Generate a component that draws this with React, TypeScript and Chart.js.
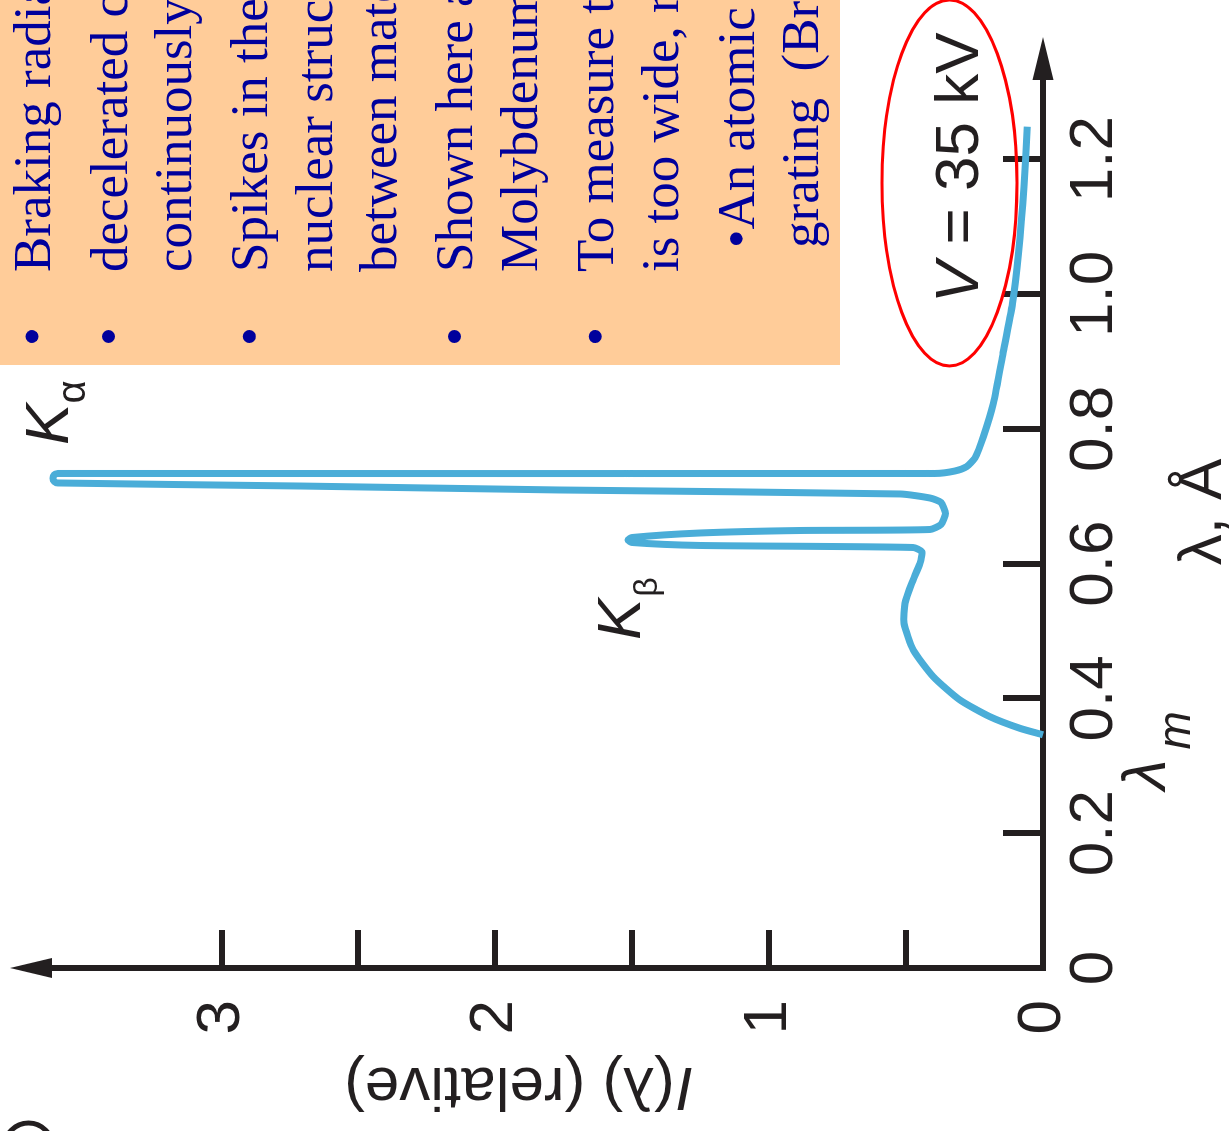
import React, { useEffect, useRef } from 'react';
import { Chart, registerables } from 'chart.js';

Chart.register(...registerables);

// ---------- data: X-ray spectrum of a molybdenum target (λ in Å, relative intensity) ----------
const wavelength = [
  0.346, 0.3556, 0.3728, 0.3976, 0.4322, 0.4718, 0.5114, 0.5411, 0.5708, 0.6004, 0.6177,
  0.6239, 0.6269, 0.6313, 0.635, 0.6387, 0.6454, 0.6491, 0.6506,
  0.658, 0.6743, 0.6907, 0.6973,
  0.7033, 0.7092, 0.7151, 0.7196, 0.7216, 0.7266, 0.7316, 0.7337, 0.7337, 0.7374, 0.7438,
  0.7567, 0.7883, 0.8378, 0.912, 0.9862, 1.0604, 1.1592, 1.2482,
];
const intensity = [
  0.0, 0.084, 0.1936, 0.3031, 0.4006, 0.4737, 0.5077, 0.504, 0.4796, 0.4492, 0.443,
  0.4748, 1.2527, 1.5011, 1.5157, 1.5011, 1.2527, 0.8875, 0.4127,
  0.3725, 0.3561, 0.3725, 0.4127,
  0.522, 1.764, 2.714, 3.598, 3.611, 3.616, 3.611, 3.598, 0.394, 0.321, 0.279,
  0.2484, 0.218, 0.1815, 0.146, 0.1114, 0.0895, 0.0694, 0.0573,
];

const xTickValues = [0, 0.2, 0.4, 0.6, 0.8, 1.0, 1.2];
const xTickLabels = ['0', '0.2', '0.4', '0.6', '0.8', '1.0', '1.2'];
const xTickMarks = [0.2, 0.4, 0.6, 0.8, 1.0, 1.2];
const yTickValues = [0, 1, 2, 3];
const yTickLabels = ['0', '1', '2', '3'];
const yTickMarks = [0.5, 1, 1.5, 2, 2.5, 3];
const X_MIN = 0;
const X_MAX = 1.3234;
const Y_MIN = 0;
const Y_MAX = 3.634;

const xTitle = 'λ, Å';
const yTitleItalic = 'I';
const yTitleRest = '(λ) (relative)';

// slide overlay text (clipped by the picture edge)
const slideLines = [
  { text: 'Braking radiation (Bremsstrahlung)', bullet: true, indent: false },
  { text: 'decelerated charges radiate, giving a', bullet: true, indent: false },
  { text: 'continuously distributed spectrum', bullet: false, indent: false },
  { text: 'Spikes in the spectrum reveal the atomic (not', bullet: true, indent: false },
  { text: 'nuclear structure): transitions of electrons', bullet: false, indent: false },
  { text: 'between material’s inner energy levels', bullet: false, indent: false },
  { text: 'Shown here are the Kα and Kβ lines of', bullet: true, indent: false },
  { text: 'Molybdenum (Mo, Z = 42)', bullet: false, indent: false },
  { text: 'To measure the X-ray wavelength, a ruled grating', bullet: true, indent: false },
  { text: 'is too wide, requires much finer spacing', bullet: false, indent: false },
  { text: '•An atomic crystal acts as a diffraction', bullet: false, indent: true, newPara: true },
  { text: 'grating  (Bragg diffraction)', bullet: false, indent: true },
];

const INK = '#231F20';
const CURVE = '#4AADD8';
const SANS = "'Liberation Sans', Arial, Helvetica, sans-serif";
const SERIF = "'Liberation Serif', 'Times New Roman', serif";

const figurePlugin = {
  id: 'figureExtras',
  beforeDatasetsDraw(chart: any) {
    const { ctx, chartArea: a, scales } = chart;
    const xs = scales.x;
    const ys = scales.y;
    ctx.save();
    ctx.strokeStyle = INK;
    ctx.lineWidth = 6;
    ctx.lineCap = 'butt';
    ctx.beginPath();
    for (const v of xTickMarks) {
      const px = Math.round(xs.getPixelForValue(v));
      ctx.moveTo(px, a.bottom);
      ctx.lineTo(px, a.bottom - 40);
    }
    for (const v of yTickMarks) {
      const py = Math.round(ys.getPixelForValue(v));
      ctx.moveTo(a.left, py);
      ctx.lineTo(a.left + 38, py);
    }
    ctx.stroke();
    // arrowheads
    ctx.fillStyle = INK;
    const ay = ys.getPixelForValue(0);
    const ax = xs.getPixelForValue(0);
    const xtip = a.right + 39;
    ctx.beginPath();
    ctx.moveTo(xtip, ay);
    ctx.lineTo(xtip - 43, ay - 10.5);
    ctx.lineTo(xtip - 43, ay + 10.5);
    ctx.closePath();
    ctx.fill();
    const ytip = a.top - 38;
    ctx.beginPath();
    ctx.moveTo(ax, ytip);
    ctx.lineTo(ax - 10, ytip + 42);
    ctx.lineTo(ax + 10, ytip + 42);
    ctx.closePath();
    ctx.fill();
    ctx.restore();
  },
  afterDraw(chart: any) {
    const { ctx, chartArea: a, scales } = chart;
    const xs = scales.x;
    const ys = scales.y;
    const px = (v: number) => xs.getPixelForValue(v);
    const py = (v: number) => ys.getPixelForValue(v);
    ctx.save();
    ctx.fillStyle = INK;
    ctx.textBaseline = 'alphabetic';
    ctx.textAlign = 'left';

    // axis titles
    ctx.font = `62px ${SANS}`;
    ctx.textAlign = 'center';
    ctx.fillText(xTitle, px(0.6766), a.bottom + 178);

    // y title, rotated
    ctx.save();
    ctx.translate(a.left - 117, py(1.91));
    ctx.rotate(-Math.PI / 2);
    ctx.textBaseline = 'middle';
    ctx.font = `italic 62px ${SANS}`;
    const wI = ctx.measureText(yTitleItalic).width;
    ctx.font = `62px ${SANS}`;
    const wR = ctx.measureText(yTitleRest).width;
    const start = -(wI + wR) / 2;
    ctx.textAlign = 'left';
    ctx.font = `italic 62px ${SANS}`;
    ctx.fillText(yTitleItalic, start, 0);
    ctx.font = `62px ${SANS}`;
    ctx.fillText(yTitleRest, start + wI + 2, 0);
    ctx.restore();

    ctx.textAlign = 'left';
    // V = 35 kV
    {
      const x0 = px(0.9866);
      const y0 = py(0.2374);
      ctx.font = `italic 62px ${SANS}`;
      ctx.fillText('V', x0, y0);
      const w = ctx.measureText('V').width;
      ctx.font = `62px ${SANS}`;
      ctx.fillText(' = 35 kV', x0 + w, y0);
    }
    // K alpha
    {
      const x0 = px(0.776);
      const y0 = py(3.561);
      ctx.font = `italic 62px ${SANS}`;
      ctx.fillText('K', x0, y0);
      const w = ctx.measureText('K').width;
      ctx.font = `40px ${SANS}`;
      ctx.fillText('α', x0 + w, y0 + 17);
    }
    // K beta
    {
      const x0 = px(0.4866);
      const y0 = py(1.472);
      ctx.font = `italic 62px ${SANS}`;
      ctx.fillText('K', x0, y0);
      const w = ctx.measureText('K').width;
      ctx.font = `34px ${SANS}`;
      ctx.fillText('β', x0 + w + 2, y0 + 17);
    }
    // lambda_m
    {
      const x0 = px(0.2641);
      const y0 = py(-0.4456);
      ctx.font = `italic 62px ${SANS}`;
      ctx.fillText('λ', x0, y0);
      const w = ctx.measureText('λ').width;
      ctx.font = `italic 46px ${SANS}`;
      ctx.fillText('m', x0 + w + 10, y0 + 25);
    }

    // red ellipse
    ctx.strokeStyle = '#FF0000';
    ctx.lineWidth = 3;
    ctx.beginPath();
    ctx.ellipse(px(1.1647), py(0.3415), 183, 67.5, 0, 0, Math.PI * 2);
    ctx.stroke();

    // partial circled label in the corner
    ctx.strokeStyle = INK;
    ctx.lineWidth = 5;
    ctx.beginPath();
    ctx.arc(-16, 28.5, 24, 0, Math.PI * 2);
    ctx.stroke();

    // slide overlay box
    ctx.fillStyle = '#FFCC99';
    ctx.fillRect(766, 0, 380, 840);
    ctx.fillStyle = '#00009C';
    ctx.font = `53px ${SERIF}`;
    let base = 50;
    slideLines.forEach((line, i) => {
      if (i > 0) base += line.bullet || (line as any).newPara ? 76.5 : 64.3;
      const tx = line.indent ? 883 : 859;
      ctx.fillText(line.text, tx, base);
      if (line.bullet) {
        ctx.beginPath();
        ctx.arc(794.5, base - 18, 6.5, 0, Math.PI * 2);
        ctx.fill();
      }
    });
    ctx.restore();
  },
};

export default function App() {
  const canvasRef = useRef<HTMLCanvasElement | null>(null);

  useEffect(() => {
    const canvas = canvasRef.current;
    if (!canvas) return;
    const points = wavelength.map((x, i) => ({ x, y: intensity[i] }));
    const chart = new Chart(canvas, {
      type: 'line',
      data: {
        datasets: [
          {
            data: points,
            borderColor: CURVE,
            borderWidth: 7,
            pointRadius: 0,
            tension: 0.2,
            fill: false,
            clip: false,
            borderJoinStyle: 'round',
            borderCapStyle: 'butt',
          } as any,
        ],
      },
      options: {
        responsive: false,
        animation: false,
        devicePixelRatio: 1,
        layout: { padding: { top: 48, right: 76, left: 0, bottom: 0 } },
        plugins: { legend: { display: false }, tooltip: { enabled: false } },
        scales: {
          x: {
            type: 'linear',
            min: X_MIN,
            max: X_MAX,
            afterFit: (scale: any) => {
              scale.height = 188;
            },
            afterBuildTicks: (scale: any) => {
              scale.ticks = xTickValues.map((value) => ({ value }));
            },
            grid: { display: false, drawTicks: false },
            border: { display: true, color: INK, width: 6 },
            ticks: {
              autoSkip: false,
              maxRotation: 0,
              padding: 15,
              color: INK,
              font: { family: SANS, size: 62, lineHeight: 1.2 },
              callback: (value: any) => {
                const i = xTickValues.indexOf(Number(value));
                return i >= 0 ? xTickLabels[i] : '';
              },
            },
            title: { display: false },
          },
          y: {
            type: 'linear',
            min: Y_MIN,
            max: Y_MAX,
            afterFit: (scale: any) => {
              scale.width = 163;
            },
            afterBuildTicks: (scale: any) => {
              scale.ticks = yTickValues.map((value) => ({ value }));
            },
            grid: { display: false, drawTicks: false },
            border: { display: true, color: INK, width: 6 },
            ticks: {
              autoSkip: false,
              padding: 32,
              color: INK,
              font: { family: SANS, size: 62, lineHeight: 0.3 },
              callback: (value: any) => {
                const i = yTickValues.indexOf(Number(value));
                return i >= 0 ? yTickLabels[i] : '';
              },
            },
            title: { display: false },
          },
        },
      },
      plugins: [figurePlugin],
    } as any);
    return () => chart.destroy();
  }, []);

  return (
    <div
      style={{
        position: 'fixed',
        left: 0,
        top: 0,
        width: 1231,
        height: 1131,
        overflow: 'hidden',
        background: '#ffffff',
      }}
    >
      <div
        style={{
          position: 'absolute',
          left: 0,
          top: 0,
          width: 1131,
          height: 1231,
          transformOrigin: '0 0',
          transform: 'translateY(1131px) rotate(-90deg)',
        }}
      >
        <canvas
          ref={canvasRef}
          width={1131}
          height={1231}
          style={{ display: 'block', width: 1131, height: 1231 }}
        />
      </div>
    </div>
  );
}
